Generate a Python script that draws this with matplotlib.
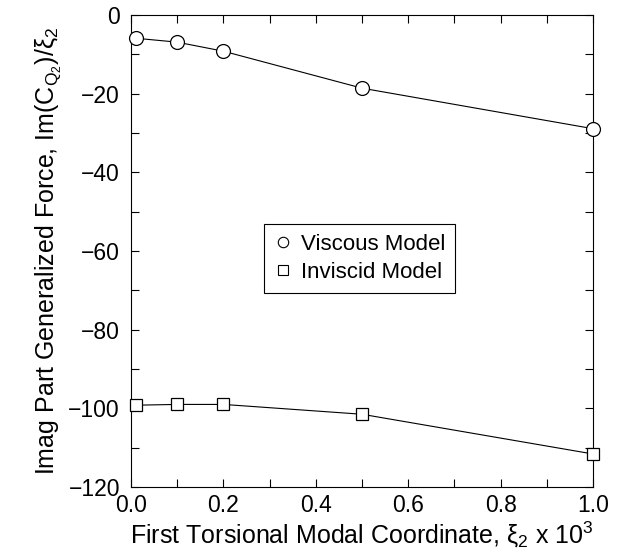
import matplotlib
matplotlib.use("Agg")
import matplotlib.pyplot as plt
from matplotlib.lines import Line2D
from matplotlib.ticker import MultipleLocator, FormatStrFormatter

plt.rcParams["font.family"] = ["Liberation Sans", "DejaVu Sans"]
plt.rcParams["mathtext.fontset"] = "custom"
plt.rcParams["mathtext.rm"] = "Liberation Sans"
plt.rcParams["mathtext.it"] = "Liberation Sans"

# data
xi = [0.01, 0.1, 0.2, 0.5, 1.0]
viscous = [-5.9, -6.9, -9.2, -18.6, -28.9]
inviscid = [-99.2, -99.0, -99.0, -101.5, -111.6]
labels = ["Viscous Model", "Inviscid Model"]

fig = plt.figure(figsize=(6.17, 5.58), dpi=100)
ax = fig.add_axes([0.2123, 0.1272, 0.7488, 0.8459])

ax.plot(xi, viscous, "-o", color="black", lw=0.8, ms=10, mfc="white",
        mec="black", mew=0.9, clip_on=False, zorder=3)
ax.plot(xi, inviscid, "-s", color="black", lw=0.8, ms=9, mfc="white",
        mec="black", mew=0.9, clip_on=False, zorder=3)

ax.set_xlim(0, 1.0)
ax.set_ylim(-120, 0)
ax.xaxis.set_major_locator(MultipleLocator(0.2))
ax.xaxis.set_minor_locator(MultipleLocator(0.1))
ax.yaxis.set_major_locator(MultipleLocator(20))
ax.yaxis.set_minor_locator(MultipleLocator(10))
ax.xaxis.set_major_formatter(FormatStrFormatter("%.1f"))
ax.tick_params(which="both", direction="in", top=True, right=True,
               labelsize=16.5, width=0.8, length=6)
ax.tick_params(axis="x", pad=5)
ax.tick_params(axis="y", pad=8)
for s in ax.spines.values():
    s.set_linewidth(0.8)

ax.set_xlabel("First Torsional Modal Coordinate, ξ$_2$ x 10$^3$", fontsize=18, labelpad=2)
ax.set_ylabel("Imag Part Generalized Force, Im(C$_{Q_2}$)/ξ$_2$", fontsize=18, labelpad=4)

# legend shows markers only, no line stub
handles = [
    Line2D([], [], ls="none", marker="o", ms=7.5, mfc="white", mec="black", mew=0.8),
    Line2D([], [], ls="none", marker="s", ms=6.5, mfc="white", mec="black", mew=0.8),
]
leg = ax.legend(handles, labels, loc="center", bbox_to_anchor=(0.495, 0.484),
                fontsize=16, handlelength=0.8, handletextpad=0.4,
                fancybox=False, edgecolor="black", framealpha=1,
                borderpad=0.45, labelspacing=0.3)
leg.get_frame().set_linewidth(0.8)

fig.savefig("out.png", dpi=100)
